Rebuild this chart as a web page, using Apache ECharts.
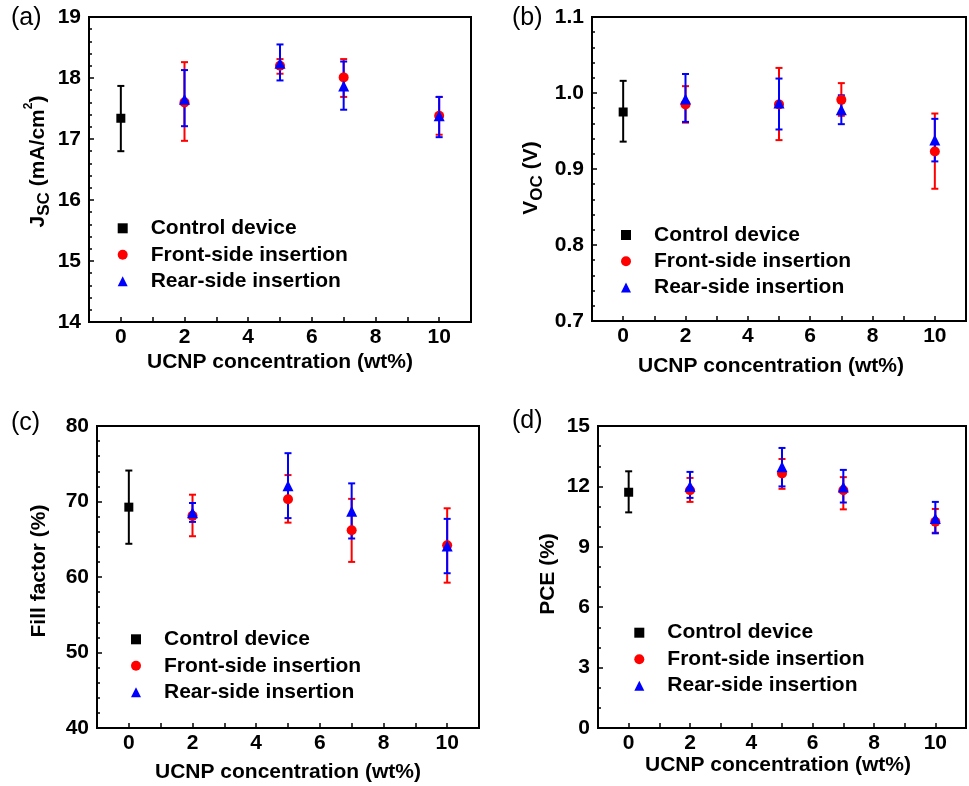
<!DOCTYPE html>
<html>
<head>
<meta charset="utf-8">
<script src="https://cdn.jsdelivr.net/npm/echarts@6/dist/echarts.min.js"></script>
<style>
html,body{margin:0;padding:0;background:#fff;}
#chart{width:969px;height:786px;}
</style>
</head>
<body>
<div id="chart"></div>
<script>
// ---- data ----
const ctrlX = [0];
const conc = [2, 5, 7, 10];
const legendNames = ['Control device', 'Front-side insertion', 'Rear-side insertion'];

// (a) Jsc (mA/cm2)
const jscCtrl = [17.34], jscCtrlLo = [16.80], jscCtrlHi = [17.87];
const jscFront = [17.60, 18.20, 18.01, 17.38];
const jscFrontLo = [16.97, 18.07, 17.69, 17.07];
const jscFrontHi = [18.26, 18.31, 18.31, 17.69];
const jscRear = [17.65, 18.24, 17.87, 17.38];
const jscRearLo = [17.21, 17.96, 17.48, 17.03];
const jscRearHi = [18.13, 18.55, 18.27, 17.69];

// (b) Voc (V)
const vocCtrl = [0.975], vocCtrlLo = [0.936], vocCtrlHi = [1.016];
const vocFront = [0.985, 0.985, 0.991, 0.923];
const vocFrontLo = [0.961, 0.938, 0.970, 0.874];
const vocFrontHi = [1.009, 1.033, 1.013, 0.973];
const vocRear = [0.992, 0.987, 0.978, 0.938];
const vocRearLo = [0.962, 0.952, 0.959, 0.910];
const vocRearHi = [1.025, 1.019, 0.997, 0.966];

// (c) Fill factor (%)
const ffCtrl = [69.25], ffCtrlLo = [64.4], ffCtrlHi = [74.1];
const ffFront = [68.1, 70.3, 66.2, 64.2];
const ffFrontLo = [65.4, 67.2, 62.0, 59.25];
const ffFrontHi = [70.9, 73.5, 70.35, 69.1];
const ffRear = [68.5, 72.1, 68.7, 64.1];
const ffRearLo = [67.3, 67.8, 65.1, 60.5];
const ffRearHi = [69.8, 76.4, 72.4, 67.7];

// (d) PCE (%)
const pceCtrl = [11.71], pceCtrlLo = [10.71], pceCtrlHi = [12.75];
const pceFront = [11.81, 12.64, 11.81, 10.24];
const pceFrontLo = [11.23, 11.88, 10.86, 9.70];
const pceFrontHi = [12.42, 13.36, 12.46, 10.88];
const pceRear = [12.01, 12.97, 11.97, 10.41];
const pceRearLo = [11.43, 12.00, 11.20, 9.67];
const pceRearHi = [12.72, 13.91, 12.82, 11.23];

// ---- layout / styling ----
const FONT = '"Liberation Sans", Arial, sans-serif';
const panels = [
  { tag: '(a)', tagX: 11, tagY: 20,
    grid: { left: 89, top: 17, width: 382, height: 305 },
    yMin: 14, yMax: 19, yInt: 1, yMinorSplit: 5, yFmt: v => String(Math.round(v)),
    yName: '{b|J}{sub|SC}{b| (mA/cm}{sup|2}{b|)}', yGap: 36, yPad: [0, 0, 0, 16],
    xGap: 30, xPad: [0, 0, 0, 0],
    legend: { left: 117.7, top: 217.8, gap: 5.5 },
    data: [[jscCtrl, jscCtrlLo, jscCtrlHi], [jscFront, jscFrontLo, jscFrontHi], [jscRear, jscRearLo, jscRearHi]] },
  { tag: '(b)', tagX: 512, tagY: 20,
    grid: { left: 592, top: 17, width: 384, height: 304 },
    yMin: 0.7, yMax: 1.1, yInt: 0.1, yMinorSplit: 5, yFmt: v => v.toFixed(1),
    yName: '{b|V}{sub|OC}{b| (V)}', yGap: 46, yPad: [0, 18, 0, 0],
    xGap: 35, xPad: [0, 16, 0, 0],
    legend: { left: 621, top: 224.5, gap: 5.2 },
    data: [[vocCtrl, vocCtrlLo, vocCtrlHi], [vocFront, vocFrontLo, vocFrontHi], [vocRear, vocRearLo, vocRearHi]] },
  { tag: '(c)', tagX: 11, tagY: 425,
    grid: { left: 97, top: 426, width: 382, height: 302 },
    yMin: 40, yMax: 80, yInt: 10, yMinorSplit: 5, yFmt: v => String(Math.round(v)),
    yName: '{b|Fill factor (%)}', yGap: 43, yPad: [0, 0, 0, 12],
    xGap: 34, xPad: [0, 0, 0, 0],
    legend: { left: 131, top: 628.8, gap: 5.5 },
    data: [[ffCtrl, ffCtrlLo, ffCtrlHi], [ffFront, ffFrontLo, ffFrontHi], [ffRear, ffRearLo, ffRearHi]] },
  { tag: '(d)', tagX: 512, tagY: 423,
    grid: { left: 598, top: 426, width: 382, height: 302 },
    yMin: 0, yMax: 15, yInt: 3, yMinorSplit: 3, yFmt: v => String(Math.round(v)),
    yName: '{b|PCE (%)}', yGap: 35, yPad: [0, 0, 0, 6],
    xGap: 26, xPad: [0, 8, 0, 0],
    legend: { left: 634.3, top: 622.2, gap: 5.5 },
    data: [[pceCtrl, pceCtrlLo, pceCtrlHi], [pceFront, pceFrontLo, pceFrontHi], [pceRear, pceRearLo, pceRearHi]] }
];

const groups = [
  { name: legendNames[0], xs: ctrlX, color: '#000000', symbol: 'rect', size: 9 },
  { name: legendNames[1], xs: conc, color: '#ff0000', symbol: 'circle', size: 10 },
  { name: legendNames[2], xs: conc, color: '#0000ff', symbol: 'triangle', size: 11 }
];

const richY = {
  b: { fontSize: 21, fontWeight: 'bold', fontFamily: FONT, color: '#000', lineHeight: 30, verticalAlign: 'middle' },
  sub: { fontSize: 17, fontWeight: 'bold', fontFamily: FONT, color: '#000', verticalAlign: 'bottom', lineHeight: 17 },
  sup: { fontSize: 12, fontWeight: 'bold', fontFamily: FONT, color: '#000', verticalAlign: 'top', lineHeight: 12 }
};

function errRender(color) {
  return function (params, api) {
    const x = api.value(0);
    const top = api.coord([x, api.value(2)]);
    const bot = api.coord([x, api.value(1)]);
    const w = 3.5;
    const st = { stroke: color, lineWidth: 2 };
    return {
      type: 'group',
      children: [
        { type: 'line', shape: { x1: top[0], y1: top[1], x2: bot[0], y2: bot[1] }, style: st },
        { type: 'line', shape: { x1: top[0] - w, y1: top[1], x2: top[0] + w, y2: top[1] }, style: st },
        { type: 'line', shape: { x1: bot[0] - w, y1: bot[1], x2: bot[0] + w, y2: bot[1] }, style: st }
      ]
    };
  };
}

const option = {
  animation: false,
  backgroundColor: '#fff',
  grid: [], xAxis: [], yAxis: [], legend: [], series: [], graphic: []
};

panels.forEach((p, i) => {
  option.grid.push(Object.assign({ show: true, borderColor: '#000', borderWidth: 2, backgroundColor: 'transparent' }, p.grid));
  option.xAxis.push({
    gridIndex: i, type: 'value', min: -1, max: 11, interval: 1,
    axisLine: { show: true, onZero: false, lineStyle: { color: '#000', width: 2 } },
    axisTick: { show: true, inside: true, length: 5, lineStyle: { color: '#000', width: 1.5 } },
    axisLabel: { margin: 5, fontSize: 21, fontWeight: 'bold', fontFamily: FONT, color: '#000',
      formatter: v => (v >= 0 && v <= 10 && v % 2 === 0) ? String(v) : '' },
    splitLine: { show: false },
    name: 'UCNP concentration (wt%)', nameLocation: 'middle', nameGap: p.xGap,
    nameTextStyle: { fontSize: 21, fontWeight: 'bold', fontFamily: FONT, color: '#000', padding: p.xPad }
  });
  option.yAxis.push({
    gridIndex: i, type: 'value', min: p.yMin, max: p.yMax, interval: p.yInt,
    axisLine: { show: true, onZero: false, lineStyle: { color: '#000', width: 2 } },
    axisTick: { show: true, inside: true, length: 5, lineStyle: { color: '#000', width: 1.5 } },
    minorTick: { show: true, splitNumber: p.yMinorSplit, length: 3, lineStyle: { color: '#000', width: 1.5 } },
    axisLabel: { margin: 8, fontSize: 21, fontWeight: 'bold', fontFamily: FONT, color: '#000', formatter: p.yFmt },
    splitLine: { show: false },
    name: p.yName, nameLocation: 'middle', nameRotate: 90, nameGap: p.yGap,
    nameTextStyle: { rich: richY, padding: p.yPad }
  });
  option.legend.push({
    orient: 'vertical', left: p.legend.left, top: p.legend.top, padding: 0,
    itemWidth: 10, itemHeight: 10, itemGap: p.legend.gap, selectedMode: false,
    data: legendNames,
    textStyle: { fontSize: 21, fontWeight: 'bold', fontFamily: FONT, color: '#000', lineHeight: 21, padding: [0, 0, 0, 18] }
  });
  groups.forEach((g, k) => {
    const [ys, lo, hi] = p.data[k];
    option.series.push({
      type: 'custom', name: 'err' + i + '_' + k, xAxisIndex: i, yAxisIndex: i,
      renderItem: errRender(g.color), encode: { x: 0, y: [1, 2] },
      data: g.xs.map((x, j) => [x, lo[j], hi[j]]), silent: true
    });
    option.series.push({
      type: 'scatter', name: g.name, xAxisIndex: i, yAxisIndex: i,
      symbol: g.symbol, symbolSize: g.size,
      itemStyle: { color: g.color, opacity: 1 },
      data: g.xs.map((x, j) => [x, ys[j]])
    });
  });
  option.graphic.push({
    type: 'text', left: p.tagX, top: p.tagY - 14,
    style: { text: p.tag, font: '25px ' + FONT, fill: '#000' }
  });
});

const chart = echarts.init(document.getElementById('chart'), null, { renderer: 'canvas' });
chart.setOption(option);
</script>
</body>
</html>
